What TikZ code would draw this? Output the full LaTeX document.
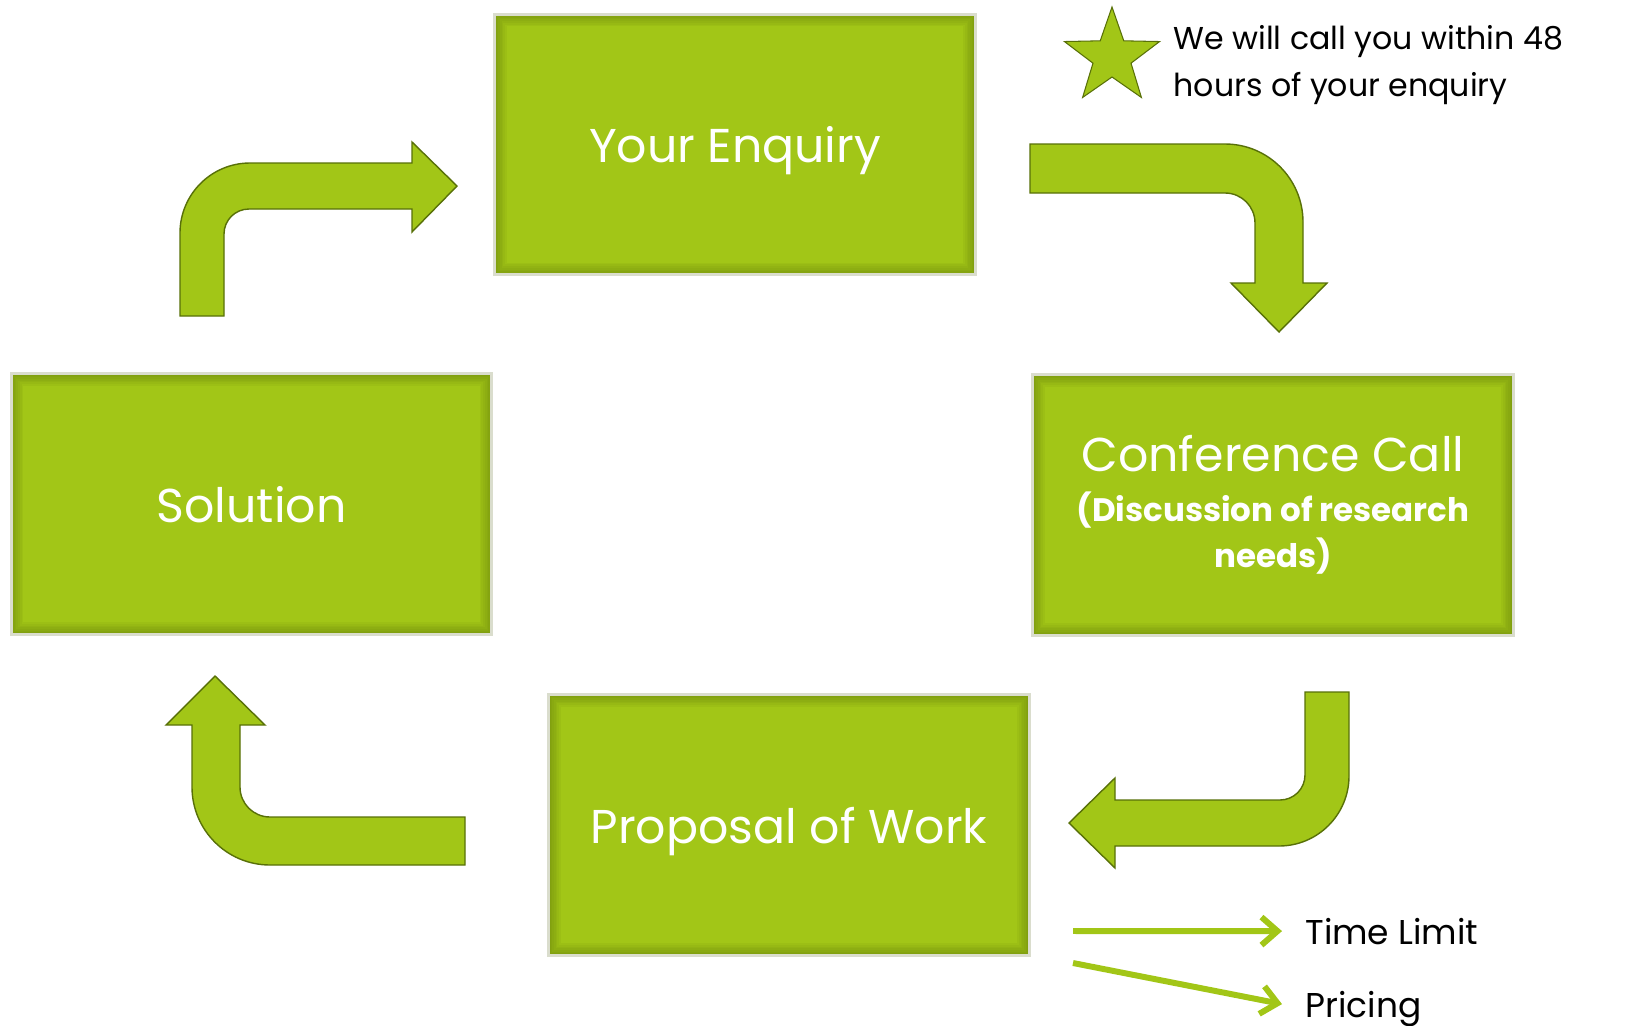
\documentclass[tikz,border=0pt]{standalone}
\usepackage{fontspec}
\setmainfont{Poppins}
\usetikzlibrary{shapes.geometric,arrows.meta,positioning}
\definecolor{leaf}{RGB}{162,198,23}
\definecolor{rim}{RGB}{218,221,205}
\definecolor{darkleaf}{RGB}{88,112,8}
\begin{document}
\begin{tikzpicture}[
        x=0.02cm, y=-0.02cm,
        >={Straight Barb[length=0.32cm,width=0.56cm]},
        semithick
    ]

    \tikzstyle{stage} = [rectangle, fill=leaf, draw=rim, line width=1.7pt,
        minimum width=9.62cm, minimum height=5.22cm, align=center,
        text=white, font=\fontsize{27}{32}\selectfont,
        path picture={\foreach \lw in {14,12,10,8,6,4,2.5,1.2}
            \draw[darkleaf, line width=\lw pt, opacity=0.07]
            (path picture bounding box.south west) rectangle
            (path picture bounding box.north east);}]
    \tikzstyle{oneline} = [text depth=0pt]
    \tikzstyle{bentarrow} = [fill=leaf, draw=darkleaf, line width=0.8pt]
    \tikzstyle{aside} = [inner sep=0pt, font=\fontsize{19.6}{26.5}\selectfont]
    \tikzstyle{pointer} = [leaf, line width=3.4pt, ->]

    \useasboundingbox (0,0) rectangle (1644,1025);

    \node[stage, oneline] (enquiry) at (735,144.5) {Your Enquiry};
    \node[stage, oneline] (solution) at (251.5,504) {Solution};
    \node[stage, font=\bfseries\fontsize{18.5}{26.5}\selectfont] (conf) at (1273,505)
        {{\mdseries\fontsize{27}{32}\selectfont Conference Call}\\[1.7pt]
        (Discussion of research\\needs)};
    \node[stage, oneline] (proposal) at (789,825) {Proposal of Work};

    \draw[bentarrow] (180,316) -- (180,233) arc[start angle=180, end angle=270, radius=70]
        -- (412,163) -- (412,142) -- (457,186) -- (412,232) -- (412,209)
        -- (249,209) arc[start angle=270, end angle=180, radius=25] -- (224,316) -- cycle;
    \draw[bentarrow] (1030,144) -- (1225,144) arc[start angle=270, end angle=360, radius=78]
        -- (1303,283) -- (1327,283) -- (1279,332) -- (1231,283) -- (1255,283)
        -- (1255,223) arc[start angle=0, end angle=-90, radius=30] -- (1030,193) -- cycle;
    \draw[bentarrow] (1305,692) -- (1349,692) -- (1349,776) arc[start angle=0, end angle=90, radius=70]
        -- (1115,846) -- (1115,868) -- (1069,823) -- (1115,778) -- (1115,800)
        -- (1280,800) arc[start angle=90, end angle=0, radius=25] -- cycle;
    \draw[bentarrow] (465,817) -- (270,817) arc[start angle=90, end angle=180, radius=30]
        -- (240,725) -- (265,725) -- (215,676) -- (166,725) -- (192,725)
        -- (192,787) arc[start angle=180, end angle=90, radius=78] -- (465,865) -- cycle;

    \node[star, star points=5, star point ratio=2.5, minimum size=2cm, inner sep=0pt,
        fill=leaf, draw=darkleaf, line width=0.6pt] (star) at (1112,57) {};
    \node[aside, align=left, anchor=north west, font=\fontsize{18}{26.5}\selectfont]
        (note) at (1173,25) {We will call you within 48\\hours of your enquiry};

    \node[aside, anchor=base west, inner xsep=13pt, text height=14.7pt, text depth=0pt]
        (time) at (1282,944) {Time Limit};
    \node[aside, anchor=base west, inner xsep=13pt, text height=14.7pt, text depth=0pt]
        (price) at (1282,1017) {Pricing};
    \coordinate (t0) at (1073,931);
    \coordinate (p0) at (1073,963);
    \draw[pointer] (t0) -- (time.west);
    \draw[pointer] (p0) -- (price.west);

\end{tikzpicture}
\end{document}
